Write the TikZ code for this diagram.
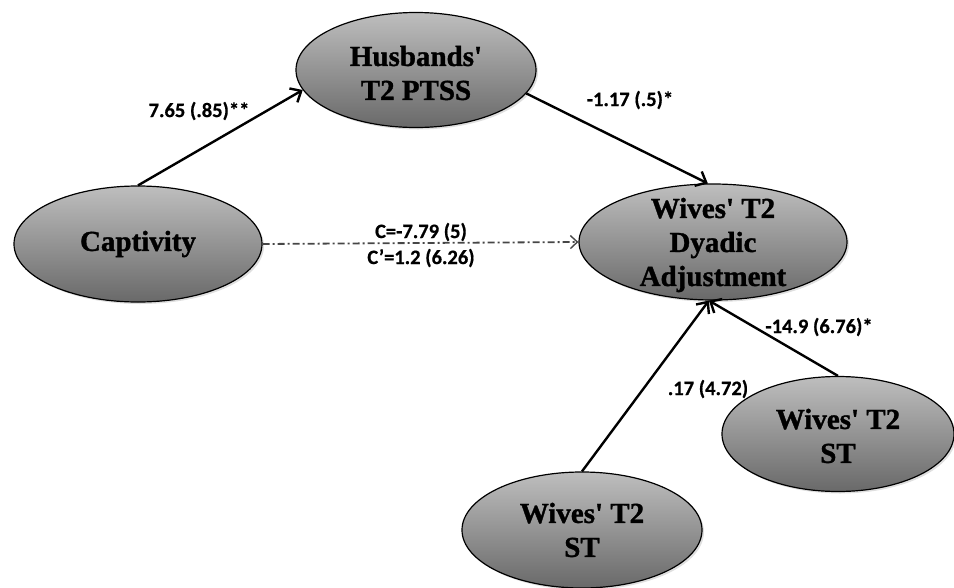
\documentclass[tikz,border=0pt]{standalone}
\usepackage{fontspec}
\setmainfont{Liberation Serif}[Ligatures=TeXOff,BoldFeatures={FakeBold=1.2}]
\newfontfamily\lblfont{Carlito Bold}[Ligatures=TeXOff,FakeBold=0.6]
\usetikzlibrary{shapes.geometric,arrows.meta,shadows}
\definecolor{elltop}{RGB}{190,190,190}
\definecolor{ellbot}{RGB}{105,105,105}
\definecolor{dashgray}{RGB}{70,70,70}
\tikzset{
  varell/.style={ellipse, draw=black, line width=1.2pt, inner sep=0pt,
    top color=elltop, bottom color=ellbot,
    drop shadow={shadow xshift=2pt, shadow yshift=-2pt, opacity=0.25}},
  vartext/.style={align=center, font=\fontsize{29}{34}\selectfont\bfseries, inner sep=0pt},
  lbl/.style={font=\lblfont\fontsize{20.5}{24}\selectfont, inner sep=1pt},
  path/.style={line width=2.4pt, -{Straight Barb[length=9pt,width=16pt,line width=2.4pt]}},
  cpath/.style={draw=dashgray, line width=1.8pt, dash pattern=on 7pt off 3pt on 2pt off 3pt,
    -{Straight Barb[length=7pt,width=13pt,line width=1.4pt]}}
}
\begin{document}
\begin{tikzpicture}[x=1pt,y=-1pt]
\useasboundingbox (0,0) rectangle (954,587);
\node[varell, minimum width=248pt, minimum height=116pt] (cap) at (138,244) {};
\node[varell, minimum width=240pt, minimum height=115pt] (husb) at (416,70) {};
\node[varell, minimum width=268pt, minimum height=116pt] (wives) at (713,242) {};
\node[varell, minimum width=232pt, minimum height=115pt] (stright) at (838,434) {};
\node[varell, minimum width=240pt, minimum height=116pt] (stbot) at (582,530) {};
\node[vartext] (capT) at (cap.center) {Captivity};
\node[vartext] (husbT) at ([yshift=-3pt]husb.center) {Husbands'\\T2 PTSS};
\node[vartext] (wivesT) at ([yshift=-3pt]wives.center) {Wives' T2\\Dyadic\\Adjustment};
\node[vartext] (strightT) at ([yshift=-2pt]stright.center) {Wives' T2\\ST};
\node[vartext] (stbotT) at (stbot.center) {Wives' T2\\ST};
\draw[path] (cap.north) -- (husb.190);
\draw[path] (husb.-12) -- (wives.95);
\draw[cpath] (cap.east) -- (wives.west);
\draw[path] (stbot.north) -- (wives.266);
\draw[path] (stright.north) -- (wives.266);
\node[lbl] (l1) at (199,111) {7.65 (.85)**};
\node[lbl] (l2) at (630,100) {-1.17 (.5)*};
\node[lbl] (l3) at (421,232) {C=-7.79 (5)};
\node[lbl] (l4) at (421,258) {C’=1.2 (6.26)};
\node[lbl] (l5) at (708,389) {.17 (4.72)};
\node[lbl] (l6) at (819,327) {-14.9 (6.76)*};
\end{tikzpicture}
\end{document}
